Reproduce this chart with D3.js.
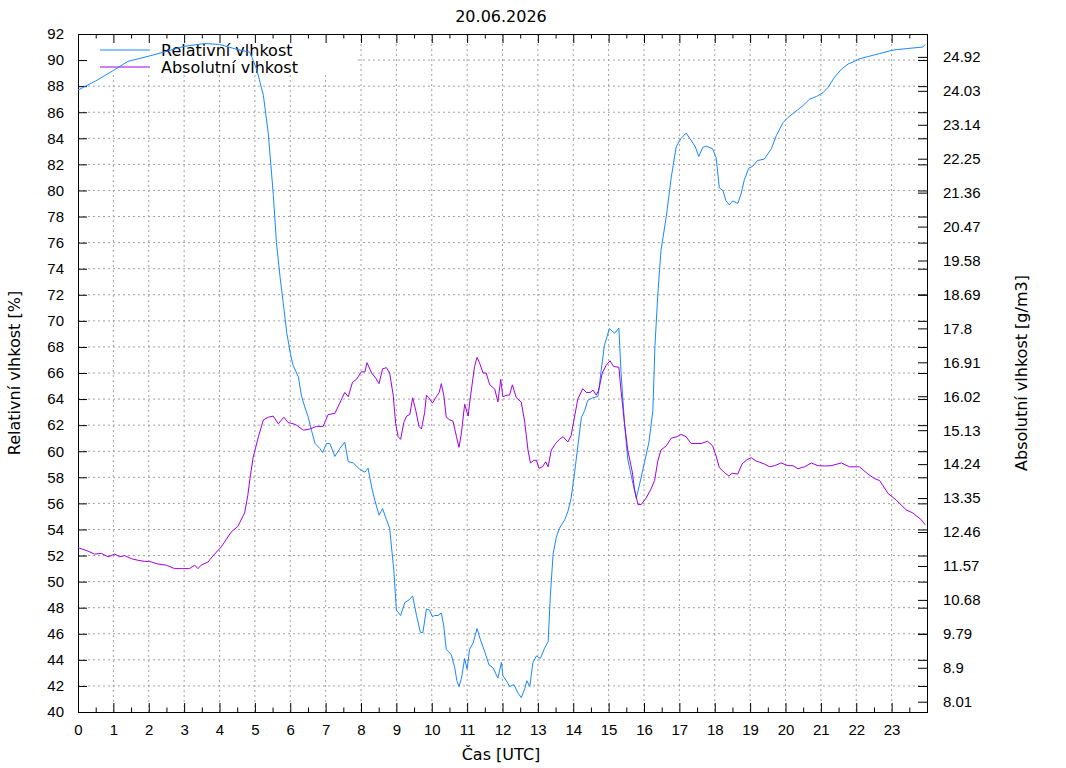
<!DOCTYPE html>
<html>
<head>
  <meta charset="UTF-8">
  <title>Vlhkost 20.06.2026</title>
  <script src="https://d3js.org/d3.v7.min.js"></script>
  <style>
    body {
      margin: 0;
      padding: 0;
      background: white;
    }

    svg {
      display: block;
      font-family: "DejaVu Sans", sans-serif;
    }

    .axis text {
      font-size: 15px;
      fill: #000;
    }

    .axis .domain {
      display: none;
    }

    .axis line {
      stroke: #000;
    }

    .grid line {
      stroke: #a0a0a0;
      stroke-dasharray: 2, 3;
    }

    .label {
      font-size: 16px;
    }
  </style>
</head>
<body>
  <svg id="chart" width="1066" height="768"></svg>

  <script>
    // hodiny (UTC) a relativni vlhkost [%]
    var relHours = [0, 0.5, 1.0, 1.41, 2.0, 2.54, 3.0, 3.58, 4.0, 4.52, 4.86, 5.05, 5.24, 5.38, 5.52, 5.61, 5.71, 5.8, 5.9, 6.01,
      6.08, 6.23, 6.32, 6.41, 6.51, 6.6, 6.7, 6.84, 6.91, 7.03, 7.12, 7.26, 7.4, 7.54, 7.64, 7.78, 7.97, 8.11, 8.2, 8.3,
      8.39, 8.51, 8.61, 8.72, 8.81, 8.93, 9.0, 9.12, 9.24, 9.36, 9.46, 9.57, 9.68, 9.75, 9.85, 9.94, 10.02, 10.08, 10.18, 10.27,
      10.34, 10.41, 10.55, 10.65, 10.71, 10.77, 10.84, 10.93, 11.0, 11.07, 11.17, 11.28, 11.37, 11.5, 11.62, 11.73, 11.87, 11.97, 12.01, 12.13,
      12.2, 12.32, 12.44, 12.53, 12.63, 12.69, 12.77, 12.86, 12.96, 13.07, 13.19, 13.29, 13.35, 13.43, 13.52, 13.61, 13.76, 13.85, 13.94, 14.04,
      14.13, 14.23, 14.32, 14.41, 14.55, 14.7, 14.79, 14.88, 15.02, 15.17, 15.29, 15.35, 15.45, 15.54, 15.67, 15.78, 15.87, 16.01, 16.14, 16.25,
      16.31, 16.39, 16.48, 16.63, 16.77, 16.91, 17.05, 17.19, 17.33, 17.45, 17.55, 17.66, 17.76, 17.94, 18.04, 18.13, 18.23, 18.32, 18.41, 18.51,
      18.65, 18.74, 18.84, 18.96, 19.07, 19.21, 19.4, 19.6, 19.74, 19.93, 20.07, 20.26, 20.49, 20.68, 20.87, 21.06, 21.2, 21.39, 21.58, 21.77,
      21.95, 22.09, 22.38, 22.66, 22.94, 23.13, 23.51, 23.88, 23.95];
    var relValues = [87.7, 88.4, 89.2, 89.9, 90.3, 90.7, 91.05, 91.27, 91.2, 90.8, 90.6, 89.3, 87.3, 84.35, 79.7, 76.0, 73.4, 71.4, 69.1, 67.4,
      66.6, 65.7, 64.2, 63.4, 62.6, 61.6, 60.6, 60.2, 59.9, 60.6, 60.6, 59.6, 60.2, 60.7, 59.2, 59.1, 58.6, 58.4, 58.7, 57.25,
      56.25, 55.1, 55.6, 54.75, 54.1, 50.8, 47.8, 47.4, 48.4, 48.6, 48.9, 47.4, 46.1, 46.1, 47.9, 47.8, 47.3, 47.4, 47.4, 47.6,
      46.6, 44.8, 44.4, 43.4, 42.4, 41.95, 42.6, 44.1, 43.3, 44.8, 45.3, 46.4, 45.6, 44.6, 43.6, 43.4, 42.6, 43.8, 42.8, 42.3,
      41.95, 42.1, 41.45, 41.1, 41.8, 42.4, 41.95, 43.8, 44.3, 44.1, 44.9, 45.4, 48.8, 52.1, 53.4, 54.1, 54.75, 55.4, 56.4, 58.4,
      60.4, 62.6, 63.1, 63.9, 64.1, 64.2, 66.2, 68.1, 69.4, 69.05, 69.45, 66.1, 62.1, 59.4, 57.75, 56.4, 57.4, 59.1, 60.7, 63.1,
      68.1, 72.0, 75.4, 78.0, 81.0, 83.35, 84.0, 84.4, 83.85, 83.35, 82.6, 83.3, 83.4, 83.2, 82.5, 80.2, 80.0, 79.2, 78.9, 79.2,
      79.0, 79.7, 80.85, 81.7, 81.85, 82.3, 82.4, 83.2, 84.2, 85.2, 85.6, 86.0, 86.5, 87.0, 87.2, 87.5, 87.9, 88.7, 89.3, 89.7,
      89.9, 90.1, 90.3, 90.5, 90.7, 90.8, 90.9, 91.0, 91.2];

    // hodiny (UTC) a absolutni vlhkost [g/m3]
    var absHours = [0, 0.28, 0.47, 0.66, 0.85, 1.04, 1.18, 1.32, 1.51, 1.69, 1.88, 2.02, 2.26, 2.5, 2.73, 2.92, 3.15, 3.3, 3.39, 3.48,
      3.67, 3.86, 4.05, 4.33, 4.52, 4.71, 4.8, 4.86, 4.95, 5.1, 5.24, 5.38, 5.52, 5.66, 5.82, 5.94, 6.08, 6.18, 6.37, 6.55,
      6.74, 6.93, 7.07, 7.26, 7.4, 7.54, 7.64, 7.76, 7.87, 8.01, 8.11, 8.17, 8.3, 8.42, 8.51, 8.61, 8.72, 8.81, 8.91, 8.98,
      9.05, 9.12, 9.21, 9.29, 9.38, 9.46, 9.55, 9.64, 9.71, 9.8, 9.85, 9.92, 10.02, 10.13, 10.21, 10.27, 10.34, 10.41, 10.51, 10.6,
      10.7, 10.77, 10.84, 10.93, 11.03, 11.07, 11.15, 11.21, 11.28, 11.35, 11.45, 11.54, 11.64, 11.78, 11.87, 11.95, 12.01, 12.13, 12.2, 12.28,
      12.39, 12.53, 12.63, 12.72, 12.79, 12.88, 12.96, 13.03, 13.13, 13.22, 13.29, 13.38, 13.5, 13.61, 13.71, 13.85, 13.94, 14.04, 14.13, 14.27,
      14.37, 14.48, 14.56, 14.65, 14.72, 14.82, 14.93, 15.04, 15.14, 15.29, 15.35, 15.45, 15.54, 15.67, 15.73, 15.83, 15.92, 16.06, 16.2, 16.3,
      16.39, 16.48, 16.63, 16.77, 16.93, 17.05, 17.19, 17.33, 17.47, 17.61, 17.8, 17.94, 18.04, 18.13, 18.27, 18.4, 18.49, 18.65, 18.77, 18.89,
      19.03, 19.17, 19.27, 19.41, 19.55, 19.69, 19.88, 20.07, 20.21, 20.35, 20.54, 20.73, 20.92, 21.11, 21.29, 21.58, 21.81, 22.09, 22.33, 22.52,
      22.66, 22.9, 23.13, 23.41, 23.6, 23.84, 23.95];
    var absValues = [12.05, 11.96, 11.88, 11.9, 11.81, 11.88, 11.81, 11.84, 11.76, 11.72, 11.69, 11.69, 11.62, 11.59, 11.5, 11.5, 11.5, 11.59, 11.5, 11.59,
      11.67, 11.88, 12.07, 12.46, 12.61, 12.96, 13.42, 13.86, 14.41, 14.96, 15.4, 15.47, 15.5, 15.3, 15.47, 15.33, 15.3, 15.26, 15.13, 15.16,
      15.23, 15.23, 15.54, 15.57, 15.84, 16.12, 16.01, 16.39, 16.46, 16.66, 16.66, 16.9, 16.63, 16.49, 16.35, 16.74, 16.77, 16.63, 16.05, 15.3,
      14.96, 14.89, 15.33, 15.5, 15.54, 15.98, 15.64, 15.23, 15.16, 15.6, 16.05, 15.98, 15.84, 16.01, 16.12, 16.35, 16.05, 15.47, 15.4, 15.37,
      14.96, 14.68, 15.06, 15.81, 15.5, 15.84, 16.39, 16.8, 17.04, 16.9, 16.63, 16.63, 16.32, 16.21, 15.87, 16.46, 16.01, 16.05, 16.05, 16.32,
      15.98, 15.87, 15.33, 14.61, 14.27, 14.34, 14.34, 14.13, 14.17, 14.3, 14.17, 14.61, 14.78, 14.89, 14.96, 14.82, 14.99, 15.5, 15.95, 16.22,
      16.12, 16.12, 16.18, 16.05, 16.18, 16.63, 16.83, 16.95, 16.8, 16.78, 16.18, 15.3, 14.61, 14.03, 13.59, 13.18, 13.18, 13.35, 13.59, 13.81,
      14.32, 14.61, 14.72, 14.92, 14.96, 15.02, 14.96, 14.78, 14.78, 14.78, 14.84, 14.72, 14.45, 14.15, 14.02, 13.93, 14.0, 13.98, 14.24, 14.34,
      14.41, 14.32, 14.29, 14.24, 14.17, 14.2, 14.27, 14.2, 14.2, 14.12, 14.17, 14.27, 14.2, 14.19, 14.2, 14.27, 14.17, 14.17, 13.98, 13.86,
      13.81, 13.47, 13.3, 13.04, 12.96, 12.78, 12.65];

    var xTicks = [0, 1, 2, 3, 4, 5, 6, 7, 8, 9, 10, 11, 12, 13, 14, 15, 16, 17, 18, 19, 20, 21, 22, 23];
    var yTicks = [40, 42, 44, 46, 48, 50, 52, 54, 56, 58, 60, 62, 64, 66, 68, 70, 72, 74, 76, 78, 80, 82, 84, 86, 88, 90, 92];
    var y2Ticks = [8.01, 8.9, 9.79, 10.68, 11.57, 12.46, 13.35, 14.24, 15.13, 16.02, 16.91, 17.8, 18.69, 19.58, 20.47, 21.36, 22.25, 23.14, 24.03, 24.92];

    var margin = { top: 34, right: 139, bottom: 56, left: 78 };
    var width = 1066 - margin.left - margin.right;
    var height = 768 - margin.top - margin.bottom;

    var svg = d3.select("#chart");
    var g = svg.append("g")
      .attr("transform", "translate(" + margin.left + "," + margin.top + ")");

    var x = d3.scaleLinear().domain([0, 24]).range([0, width]);
    var y = d3.scaleLinear().domain([40, 92]).range([height, 0]);
    var y2 = d3.scaleLinear().domain([7.74, 25.52]).range([height, 0]);

    // oblast legendy - mrizka se tam nekresli
    var keyW = 280, keyH = 41;

    var grid = g.append("g").attr("class", "grid");
    grid.selectAll(".vx")
      .data(xTicks.filter(d => d > 0))
      .enter()
      .append("line")
      .attr("x1", d => x(d))
      .attr("x2", d => x(d))
      .attr("y1", d => x(d) < keyW ? keyH : 0)
      .attr("y2", height);
    grid.selectAll(".hy")
      .data(yTicks.filter(d => d > 40 && d < 92))
      .enter()
      .append("line")
      .attr("y1", d => y(d))
      .attr("y2", d => y(d))
      .attr("x1", d => y(d) < keyH ? keyW : 0)
      .attr("x2", width);

    // osy
    g.append("g")
      .attr("class", "axis")
      .call(d3.axisLeft(y).tickValues(yTicks).tickSizeInner(-9).tickSizeOuter(0).tickPadding(14));

    g.append("g")
      .attr("class", "axis")
      .attr("transform", "translate(" + width + ",0)")
      .call(d3.axisRight(y).tickValues(yTicks).tickSizeInner(-9).tickSizeOuter(0).tickFormat(""));

    g.append("g")
      .attr("class", "axis")
      .attr("transform", "translate(" + width + ",0)")
      .call(d3.axisRight(y2).tickValues(y2Ticks).tickSizeInner(-9).tickSizeOuter(0).tickPadding(16)
        .tickFormat(d => String(d)));

    g.append("g")
      .attr("class", "axis")
      .attr("transform", "translate(0," + height + ")")
      .call(d3.axisBottom(x).tickValues(xTicks).tickSizeInner(-9).tickSizeOuter(0).tickPadding(12));

    var halfHours = xTicks.map(d => d + 0.5);
    g.append("g")
      .attr("class", "axis")
      .attr("transform", "translate(0," + height + ")")
      .call(d3.axisBottom(x).tickValues(halfHours).tickSizeInner(-4.5).tickSizeOuter(0).tickFormat(""));

    g.append("g")
      .attr("class", "axis")
      .call(d3.axisTop(x).tickValues(xTicks).tickSizeInner(-9).tickSizeOuter(0).tickFormat(""));
    g.append("g")
      .attr("class", "axis")
      .call(d3.axisTop(x).tickValues(halfHours).tickSizeInner(-4.5).tickSizeOuter(0).tickFormat(""));

    g.append("rect")
      .attr("width", width)
      .attr("height", height)
      .attr("fill", "none")
      .attr("stroke", "#000")
      .attr("shape-rendering", "crispEdges");

    // popisky
    svg.append("text")
      .attr("class", "label")
      .attr("x", 501)
      .attr("y", 22)
      .attr("text-anchor", "middle")
      .text("20.06.2026");

    svg.append("text")
      .attr("class", "label")
      .attr("x", 501)
      .attr("y", 760)
      .attr("text-anchor", "middle")
      .text("Čas [UTC]");

    svg.append("text")
      .attr("class", "label")
      .attr("transform", "translate(20,373) rotate(-90)")
      .attr("text-anchor", "middle")
      .text("Relativní vlhkost [%]");

    svg.append("text")
      .attr("class", "label")
      .attr("transform", "translate(1027,373) rotate(-90)")
      .attr("text-anchor", "middle")
      .text("Absolutní vlhkost [g/m3]");

    // legenda
    var series = [
      { name: "Relativní vlhkost", color: "#1a86ff" },
      { name: "Absolutní vlhkost", color: "#a100e6" }
    ];
    var legend = g.append("g").attr("transform", "translate(22,16)");
    series.forEach(function (s, i) {
      legend.append("line")
        .attr("x1", 0).attr("x2", 50)
        .attr("y1", i * 17).attr("y2", i * 17)
        .attr("stroke", s.color);
      legend.append("text")
        .attr("class", "label")
        .attr("x", 61)
        .attr("y", i * 17 + 6)
        .text(s.name);
    });

    // krivky
    g.append("clipPath").attr("id", "clip")
      .append("rect").attr("width", width).attr("height", height);

    var relLine = d3.line()
      .x((d, i) => x(relHours[i]))
      .y(d => y(d));
    var absLine = d3.line()
      .x((d, i) => x(absHours[i]))
      .y(d => y2(d));

    g.append("path")
      .attr("clip-path", "url(#clip)")
      .attr("d", relLine(relValues))
      .attr("fill", "none")
      .attr("stroke", series[0].color)
      .attr("stroke-width", 1);

    g.append("path")
      .attr("clip-path", "url(#clip)")
      .attr("d", absLine(absValues))
      .attr("fill", "none")
      .attr("stroke", series[1].color)
      .attr("stroke-width", 1);
  </script>
</body>
</html>
